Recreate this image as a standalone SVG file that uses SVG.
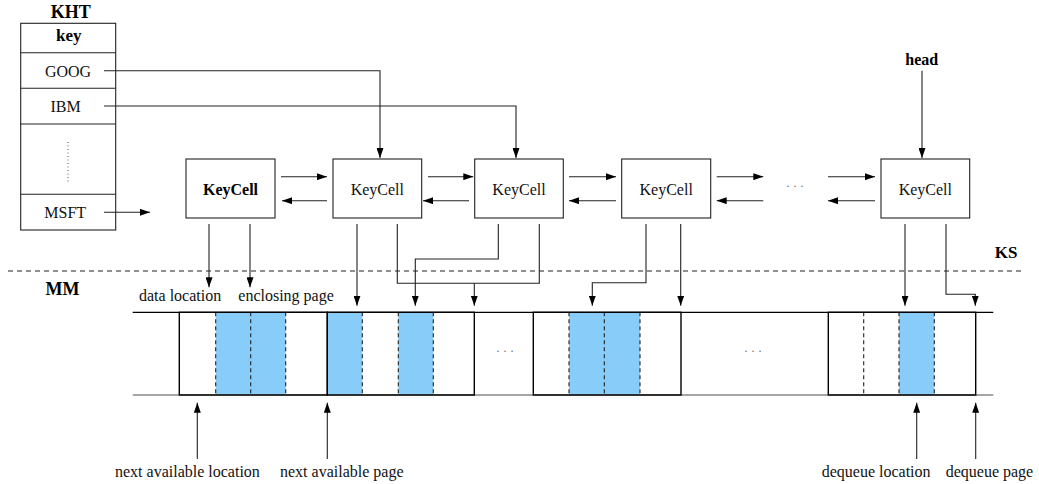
<svg xmlns="http://www.w3.org/2000/svg" width="1039" height="484" viewBox="0 0 1039 484">
<defs>
<marker id="ah" markerWidth="10" markerHeight="7" refX="10" refY="3.5" orient="auto" markerUnits="userSpaceOnUse">
<path d="M0,0 L10,3.5 L0,7 z" fill="#000"/>
</marker>
<style>
.t{font-family:"Liberation Serif","Times New Roman",serif;font-size:16px;fill:#111}
.b{font-family:"Liberation Serif","Times New Roman",serif;font-weight:bold;fill:#000}
.box{fill:#fff;stroke:#222;stroke-width:1.1}
.c{fill:none;stroke:#222;stroke-width:1.1}
.a{fill:none;stroke:#222;stroke-width:1.1;marker-end:url(#ah)}
.blue{fill:#88CCFA;stroke:none}
.dl{stroke:#222;stroke-width:1.1;stroke-dasharray:4,3}
.pg{fill:none;stroke:#000;stroke-width:1.4}
.dots{font-family:"Liberation Serif",serif;font-size:12px;fill:#666}
</style>
</defs>
<rect width="1039" height="484" fill="#fff"/>

<g id="kht">
<text class="b" x="70.8" y="18.3" font-size="18" text-anchor="middle">KHT</text>
<rect class="box" x="20.7" y="23.3" width="95" height="206.7"/>
<line class="c" x1="20.7" y1="52.7" x2="115.7" y2="52.7"/>
<line class="c" x1="20.7" y1="88.3" x2="115.7" y2="88.3"/>
<line class="c" x1="20.7" y1="124" x2="115.7" y2="124"/>
<line class="c" x1="20.7" y1="194.3" x2="115.7" y2="194.3"/>
<text class="b" x="68.8" y="41" font-size="17" text-anchor="middle">key</text>
<text class="t" x="68" y="77.3" text-anchor="middle">GOOG</text>
<text class="t" x="65.5" y="112.3" text-anchor="middle">IBM</text>
<line x1="68" y1="142" x2="68" y2="182" stroke="#555" stroke-width="1" stroke-dasharray="1,2.5"/>
<text class="t" x="65.2" y="218" text-anchor="middle">MSFT</text>
</g>

<g id="head"><text class="b" x="921.7" y="65" font-size="16" text-anchor="middle">head</text></g>
<g id="ks"><text class="b" x="1006" y="258.3" font-size="17" text-anchor="middle">KS</text></g>
<g id="mm"><text class="b" x="62.5" y="295" font-size="18" text-anchor="middle">MM</text></g>

<g id="keycell1"><rect class="box" x="186" y="159" width="89" height="59"/><text class="b" x="230.5" y="195" font-size="16" text-anchor="middle">KeyCell</text></g>
<g id="keycell2"><rect class="box" x="333" y="159" width="88.7" height="59"/><text class="t" x="377.3" y="195" text-anchor="middle">KeyCell</text></g>
<g id="keycell3"><rect class="box" x="474.7" y="159" width="88.6" height="59"/><text class="t" x="519" y="195" text-anchor="middle">KeyCell</text></g>
<g id="keycell4"><rect class="box" x="621.7" y="159" width="89" height="59"/><text class="t" x="666.2" y="195" text-anchor="middle">KeyCell</text></g>
<g id="keycell5"><rect class="box" x="881" y="159" width="88.7" height="59"/><text class="t" x="925.3" y="195" text-anchor="middle">KeyCell</text></g>
<g id="rowdots"><text class="dots" x="795" y="190" text-anchor="middle">· · ·</text></g>

<g id="separator"><line x1="8" y1="271" x2="1023" y2="271" stroke="#222" stroke-width="1.1" stroke-dasharray="5,4"/></g>

<g id="memory">
<rect class="blue" x="215.7" y="312.3" width="70" height="82.7"/>
<rect class="blue" x="327.3" y="312.3" width="35" height="82.7"/>
<rect class="blue" x="398.3" y="312.3" width="35" height="82.7"/>
<rect class="blue" x="569" y="312.3" width="71" height="82.7"/>
<rect class="blue" x="899" y="312.3" width="35.3" height="82.7"/>
<g class="dl">
<line x1="215.7" y1="312.3" x2="215.7" y2="395"/>
<line x1="250.7" y1="312.3" x2="250.7" y2="395"/>
<line x1="285.7" y1="312.3" x2="285.7" y2="395"/>
<line x1="362.3" y1="312.3" x2="362.3" y2="395"/>
<line x1="398.3" y1="312.3" x2="398.3" y2="395"/>
<line x1="433.3" y1="312.3" x2="433.3" y2="395"/>
<line x1="569" y1="312.3" x2="569" y2="395"/>
<line x1="604.3" y1="312.3" x2="604.3" y2="395"/>
<line x1="640" y1="312.3" x2="640" y2="395"/>
<line x1="863.7" y1="312.3" x2="863.7" y2="395"/>
<line x1="899" y1="312.3" x2="899" y2="395"/>
<line x1="934.3" y1="312.3" x2="934.3" y2="395"/>
</g>
<line x1="132.7" y1="395" x2="993.3" y2="395" stroke="#888" stroke-width="1.4"/>
<line x1="132.7" y1="312.3" x2="993.3" y2="312.3" stroke="#000" stroke-width="1.3"/>
<rect class="pg" x="179.3" y="312.3" width="148" height="82.7"/>
<rect class="pg" x="327.3" y="312.3" width="147" height="82.7"/>
<rect class="pg" x="533.3" y="312.3" width="147.7" height="82.7"/>
<rect class="pg" x="828.3" y="312.3" width="147.4" height="82.7"/>
<text class="dots" x="505" y="355" text-anchor="middle">· · ·</text>
<text class="dots" x="753" y="355" text-anchor="middle">· · ·</text>
</g>

<g id="labels">
<text class="t" x="139" y="300.7">data location</text>
<text class="t" x="238.3" y="300.7">enclosing page</text>
<text class="t" x="115" y="477">next available location</text>
<text class="t" x="280" y="477">next available page</text>
<text class="t" x="821.7" y="477">dequeue location</text>
<text class="t" x="945.7" y="477">dequeue page</text>
</g>

<g id="connectors">
<polyline class="a" points="104,70.7 380,70.7 380,158"/>
<polyline class="a" points="104,106 516,106 516,158"/>
<line class="a" x1="104" y1="212.3" x2="150" y2="212.3"/>
<line class="a" x1="922" y1="70.7" x2="922" y2="158"/>

<line class="a" x1="281" y1="176.7" x2="327" y2="176.7"/>
<line class="a" x1="327" y1="200.7" x2="282" y2="200.7"/>
<line class="a" x1="428" y1="176.7" x2="473.3" y2="176.7"/>
<line class="a" x1="469" y1="200.7" x2="423" y2="200.7"/>
<line class="a" x1="569" y1="176.7" x2="616" y2="176.7"/>
<line class="a" x1="616" y1="200.7" x2="569" y2="200.7"/>
<line class="a" x1="716.7" y1="176.7" x2="763.3" y2="176.7"/>
<line class="a" x1="763.3" y1="200.7" x2="716.7" y2="200.7"/>
<line class="a" x1="828" y1="176.7" x2="875" y2="176.7"/>
<line class="a" x1="875" y1="200.7" x2="828" y2="200.7"/>

<line class="a" x1="209" y1="224" x2="209" y2="287.3"/>
<line class="a" x1="250" y1="224" x2="250" y2="287.3"/>
<line class="a" x1="357" y1="224" x2="357" y2="305.7"/>
<polyline class="c" points="397.3,224 397.3,283.3 539.3,283.3 539.3,224"/>
<line class="a" x1="474.3" y1="283.3" x2="474.3" y2="305.7"/>
<polyline class="a" points="498.3,224 498.3,259 415.3,259 415.3,305.7"/>
<polyline class="a" points="646,224 646,282.7 592.3,282.7 592.3,305.7"/>
<line class="a" x1="680.7" y1="224" x2="680.7" y2="305.7"/>
<line class="a" x1="905" y1="224" x2="905" y2="305.7"/>
<polyline class="a" points="946,224 946,294.3 975.3,294.3 975.3,305.7"/>

<line class="a" x1="197.3" y1="459" x2="197.3" y2="402.7"/>
<line class="a" x1="327.3" y1="459" x2="327.3" y2="402.7"/>
<line class="a" x1="916.7" y1="459" x2="916.7" y2="402.7"/>
<line class="a" x1="975.7" y1="459" x2="975.7" y2="402.7"/>
</g>
</svg>
